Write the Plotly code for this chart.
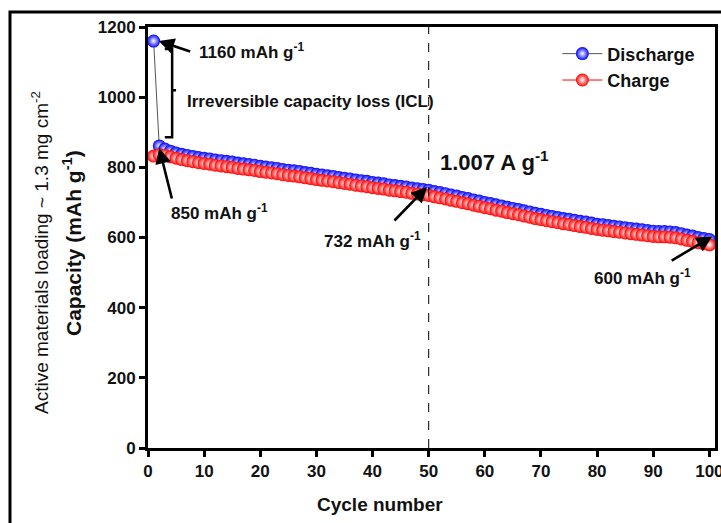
import plotly.graph_objects as go

cycles = list(range(1, 101))
discharge = [1160, 861, 852, 846, 841, 837, 834, 831, 828, 826,
             824, 821, 819, 817, 815, 812, 810, 808, 806, 803,
             801, 799, 797, 794, 792, 790, 788, 785, 783, 780,
             778, 776, 774, 771, 769, 767, 764, 762, 760, 757,
             755, 753, 750, 748, 746, 744, 741, 739, 737, 735,
             731, 728, 725, 721, 718, 714, 711, 707, 704, 700,
             697, 693, 690, 686, 683, 680, 676, 673, 669, 666,
             663, 660, 657, 654, 652, 649, 646, 644, 641, 638,
             636, 634, 632, 630, 628, 626, 624, 622, 620, 618,
             617, 617, 616, 614, 611, 607, 604, 600, 597, 594]
charge = [832, 836, 834, 830, 826, 822, 819, 816, 813, 811,
          809, 806, 804, 802, 800, 797, 795, 793, 791, 788,
          786, 784, 782, 779, 777, 775, 773, 770, 768, 765,
          763, 761, 759, 756, 754, 752, 749, 747, 745, 742,
          740, 738, 735, 733, 731, 729, 726, 724, 722, 720,
          716, 713, 710, 706, 703, 699, 696, 692, 689, 685,
          682, 678, 675, 671, 668, 665, 661, 658, 654, 651,
          648, 645, 642, 639, 637, 634, 631, 629, 626, 623,
          621, 619, 617, 615, 613, 611, 609, 607, 605, 603,
          602, 602, 601, 599, 596, 592, 589, 585, 582, 579]

x_ticks = [0, 10, 20, 30, 40, 50, 60, 70, 80, 90, 100]
y_ticks = [0, 200, 400, 600, 800, 1000, 1200]

FONT = "Liberation Sans, Arial, sans-serif"
INK = "#111111"

fig = go.Figure()
fig.add_trace(go.Scatter(
    x=cycles, y=discharge, name="Discharge", mode="lines+markers",
    line=dict(color="#555555", width=1),
    marker=dict(size=13, color="#0000ff", line=dict(width=0),
                gradient=dict(type="radial", color="#ffffff")),
))
fig.add_trace(go.Scatter(
    x=cycles, y=charge, name="Charge", mode="lines+markers",
    line=dict(color="#ff0000", width=1),
    marker=dict(size=13, color="#ff0000", line=dict(width=0),
                gradient=dict(type="radial", color="#ffffff")),
))

# dashed vertical line at cycle 50
fig.add_shape(type="line", x0=50, x1=50, y0=0, y1=1200, xref="x", yref="y",
              line=dict(color="black", width=1, dash="dash"))

# bracket for ICL
fig.add_shape(type="path", xref="x", yref="y",
              path="M 3.0,1137 L 4.3,1137 L 4.3,886 L 3.0,886 M 4.3,1020 L 5.0,1020",
              line=dict(color="black", width=2.5))

# outer frame
fig.add_shape(type="path", xref="paper", yref="paper",
              path="M 1.2,1.0356 L -0.2434,1.0356 L -0.2434,-0.3",
              line=dict(color="black", width=3))


def arrow(x, y, ax, ay):
    fig.add_annotation(x=x, y=y, ax=ax, ay=ay, xref="x", yref="y", text="",
                       showarrow=True, arrowhead=2, arrowsize=1.2, arrowwidth=2.6,
                       arrowcolor="black")

arrow(1.9, 1160, 33, 11)
arrow(2.0, 855, 13, 52)
arrow(49.7, 744, -34, 35)
arrow(100.5, 603, -42, 25)


def label(px, py, text, size=17, xanchor="left", weight="bold"):
    fig.add_annotation(x=(px - 148) / 567, y=(448 - py) / 421, xref="paper", yref="paper",
                       text=text, showarrow=False, xanchor=xanchor, yanchor="middle",
                       font=dict(family=FONT, size=size, color=INK, weight=weight))

label(197, 51, "1160 mAh g<sup>-1</sup>")
label(185, 101, "Irreversible capacity loss (ICL)")
label(169, 212, "850 mAh g<sup>-1</sup>")
label(438, 161, "1.007 A g<sup>-1</sup>", size=22)
label(322, 240, "732 mAh g<sup>-1</sup>")
label(592, 277, "600 mAh g<sup>-1</sup>")

# y titles (two lines) and x title
fig.add_annotation(x=(40 - 148) / 567, y=(448 - 253) / 421, xref="paper", yref="paper",
                   text="Active materials loading ~ 1.3 mg cm<sup>-2</sup>", textangle=-90,
                   showarrow=False, xanchor="center", yanchor="middle",
                   font=dict(family=FONT, size=19, color=INK))
fig.add_annotation(x=(72 - 148) / 567, y=(448 - 243) / 421, xref="paper", yref="paper",
                   text="Capacity (mAh g<sup>-1</sup>)", textangle=-90,
                   showarrow=False, xanchor="center", yanchor="middle",
                   font=dict(family=FONT, size=21, color=INK, weight="bold"))
fig.add_annotation(x=(380 - 148) / 567, y=(448 - 504) / 421, xref="paper", yref="paper",
                   text="Cycle number", showarrow=False, xanchor="center", yanchor="middle",
                   font=dict(family=FONT, size=19, color=INK, weight="bold"))

axis_common = dict(showline=True, linecolor="black", linewidth=3, mirror=True,
                   ticks="outside", ticklen=6, tickwidth=3, tickcolor="black",
                   showgrid=False, zeroline=False, automargin=False,
                   ticklabeloverflow="allow",
                   tickfont=dict(family=FONT, size=17, color=INK, weight="bold"))

fig.update_xaxes(range=[0, 101], tickvals=x_ticks, ticktext=[str(v) for v in x_ticks],
                 **axis_common)
fig.update_yaxes(range=[0, 1200], tickvals=y_ticks, ticktext=[str(v) for v in y_ticks],
                 **axis_common)

fig.update_layout(
    width=721, height=523,
    margin=dict(l=148, r=6, t=27, b=75),
    paper_bgcolor="white", plot_bgcolor="white",
    showlegend=True,
    legend=dict(x=0.722, y=0.98, xanchor="left", yanchor="top", itemwidth=40,
                bgcolor="rgba(0,0,0,0)", tracegroupgap=0,
                font=dict(family=FONT, size=18, color=INK, weight="bold")),
)

fig.write_html("out.html", config={"displayModeBar": False},
               post_script="document.body.style.margin='0';")
